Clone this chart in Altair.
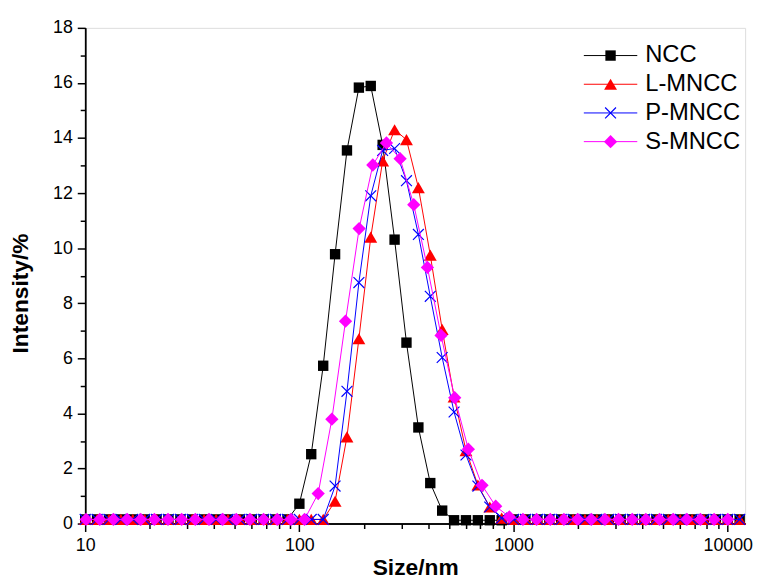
import altair as alt
import pandas as pd

# size grid used by NCC, L-MNCC and P-MNCC (nm)
size_a = [10.0, 11.37, 12.92, 14.68, 16.68, 18.96, 21.54, 24.48, 27.83, 31.62,
          35.94, 40.84, 46.42, 52.75, 59.95, 68.13, 77.43, 88.0, 100.0, 113.6,
          129.2, 146.8, 166.8, 189.6, 215.4, 244.8, 278.3, 316.2, 359.4, 408.4,
          464.2, 527.5, 599.5, 681.3, 774.3, 880.0, 1000.0, 1136, 1292, 1468,
          1668, 1896, 2154, 2448, 2783, 3162, 3594, 4084, 4642, 5275,
          5995, 6813, 7743, 8799, 10000, 11365]
# size grid used by S-MNCC (nm)
size_b = [10.1, 11.7, 13.54, 15.69, 18.17, 21.04, 24.36, 28.21, 32.67, 37.84,
          43.82, 50.75, 58.77, 68.06, 78.82, 91.28, 105.7, 122.4, 141.8, 164.2,
          190.1, 220.2, 255.0, 295.3, 342.0, 396.1, 458.7, 531.2, 615.1, 712.4,
          825.0, 955.4, 1106, 1281, 1484, 1718, 1990, 2305, 2669, 3091,
          3580, 4145, 4801, 5560, 6439, 7456, 8635, 10000]

ncc = [0.15, 0.15, 0.15, 0.15, 0.15, 0.15, 0.15, 0.15, 0.15, 0.15,
       0.15, 0.15, 0.15, 0.15, 0.15, 0.15, 0.15, 0.15, 0.72, 2.52,
       5.73, 9.78, 13.55, 15.83, 15.89, 13.75, 10.31, 6.57, 3.49, 1.47,
       0.47, 0.12, 0.12, 0.12, 0.12, 0.12, 0.15, 0.15, 0.15, 0.15,
       0.15, 0.15, 0.15, 0.15, 0.15, 0.15, 0.15, 0.15, 0.15, 0.15,
       0.15, 0.15, 0.15, 0.15, 0.15, 0.15]
l_mncc = [0.15, 0.15, 0.15, 0.15, 0.15, 0.15, 0.15, 0.15, 0.15, 0.15,
          0.15, 0.15, 0.15, 0.15, 0.15, 0.15, 0.15, 0.15, 0.15, 0.15,
          0.15, 0.81, 3.15, 6.71, 10.4, 13.17, 14.3, 13.94, 12.2, 9.75,
          7.05, 4.6, 2.65, 1.4, 0.6, 0.2, 0.15, 0.15, 0.15, 0.15,
          0.15, 0.15, 0.15, 0.15, 0.15, 0.15, 0.15, 0.15, 0.15, 0.15,
          0.15, 0.15, 0.15, 0.15, 0.15, 0.15]
p_mncc = [0.15, 0.15, 0.15, 0.15, 0.15, 0.15, 0.15, 0.15, 0.15, 0.15,
          0.15, 0.15, 0.15, 0.15, 0.15, 0.15, 0.15, 0.15, 0.15, 0.15,
          0.15, 1.36, 4.8, 8.75, 11.9, 13.55, 13.62, 12.45, 10.5, 8.25,
          6.03, 4.05, 2.49, 1.36, 0.6, 0.2, 0.15, 0.15, 0.15, 0.15,
          0.15, 0.15, 0.15, 0.15, 0.15, 0.15, 0.15, 0.15, 0.15, 0.15,
          0.15, 0.15, 0.15, 0.15, 0.15, 0.15]
s_mncc = [0.15, 0.15, 0.15, 0.15, 0.15, 0.15, 0.15, 0.15, 0.15, 0.15,
          0.15, 0.15, 0.15, 0.15, 0.15, 0.15, 0.15, 1.09, 3.79, 7.35,
          10.71, 13.02, 13.82, 13.25, 11.58, 9.3, 6.83, 4.57, 2.7, 1.39,
          0.63, 0.24, 0.15, 0.15, 0.15, 0.15, 0.15, 0.15, 0.15, 0.15,
          0.15, 0.15, 0.15, 0.15, 0.15, 0.15, 0.15, 0.15]

names = ["NCC", "L-MNCC", "P-MNCC", "S-MNCC"]
colors = ["#000000", "#FF0000", "#0000FF", "#FF00FF"]
x_major = [10, 100, 1000, 10000]
x_minor = [20, 30, 40, 50, 60, 70, 80, 90, 200, 300, 400, 500, 600, 700, 800, 900,
           2000, 3000, 4000, 5000, 6000, 7000, 8000, 9000]
y_major = [0, 2, 4, 6, 8, 10, 12, 14, 16, 18]
y_minor = [1, 3, 5, 7, 9, 11, 13, 15, 17]

FONT = "Liberation Sans"
XCROSS = "M-1,-1L1,1M-1,1L1,-1"
shapes = ["square", "triangle-up", XCROSS, "diamond"]
sizes = [110, 170, 120, 180]
filled = [True, True, False, True]

xscale = alt.Scale(type="log", domain=[10, 12050], nice=False)
yscale = alt.Scale(domain=[0, 18], nice=False, zero=False)

frames = [
    pd.DataFrame({"size": size_a, "intensity": ncc}),
    pd.DataFrame({"size": size_a, "intensity": l_mncc}),
    pd.DataFrame({"size": size_a, "intensity": p_mncc}),
    pd.DataFrame({"size": size_b, "intensity": s_mncc}),
]

axis_common = dict(labelFont=FONT, labelFontSize=18, labelColor="black",
                   labelFlush=False, labelOverlap=False,
                   tickColor="black", domainColor="black", tickWidth=1.5,
                   domainWidth=1.5, grid=False, titleFont=FONT, titleFontSize=23,
                   titleFontWeight="bold", titleColor="black")

layers = []
base0 = alt.Chart(frames[0])
layers.append(base0.mark_line(opacity=0).encode(
    x=alt.X("size:Q", scale=xscale,
            axis=alt.Axis(values=x_major, format="d", tickSize=8, labelPadding=5,
                          title="Size/nm", titleY=51, titleBaseline="alphabetic",
                          orient="bottom", **axis_common)),
    y=alt.Y("intensity:Q", scale=yscale,
            axis=alt.Axis(values=y_major, tickSize=8, labelPadding=5,
                          title="Intensity/%", titlePadding=20, titleY=268,
                          orient="left", **axis_common)),
))
layers.append(base0.mark_line(opacity=0).encode(
    x=alt.X("size:Q", scale=xscale,
            axis=alt.Axis(values=x_minor, tickSize=5, labels=False, title=None,
                          orient="bottom", **axis_common)),
    y=alt.Y("intensity:Q", scale=yscale,
            axis=alt.Axis(values=y_minor, tickSize=5, labels=False, title=None,
                          orient="left", **axis_common)),
))

for df, col, shp, sz, fl in zip(frames, colors, shapes, sizes, filled):
    base = alt.Chart(df).encode(
        x=alt.X("size:Q", scale=xscale, axis=None),
        y=alt.Y("intensity:Q", scale=yscale, axis=None),
    )
    layers.append(base.mark_line(color=col, strokeWidth=1))
    layers.append(base.mark_point(shape=shp, size=sz, filled=fl, color=col,
                                  strokeWidth=1.2, opacity=1))

# legend (line + marker + text)
for i, (nm, col, shp, sz, fl) in enumerate(zip(names, colors, shapes, sizes, filled)):
    ly = 28 + 29 * i
    leg = alt.Chart(pd.DataFrame({"name": [nm]}))
    layers.append(leg.mark_rule(color=col, strokeWidth=1).encode(
        x=alt.value(504), x2=alt.value(558), y=alt.value(ly)))
    layers.append(leg.mark_point(shape=shp, size=sz, filled=fl, color=col,
                                 strokeWidth=1.2, opacity=1).encode(
        x=alt.value(531), y=alt.value(ly)))
    layers.append(leg.mark_text(align="left", baseline="middle", font=FONT,
                                fontSize=24, color="black").encode(
        x=alt.value(566), y=alt.value(ly), text="name:N"))

chart = alt.layer(*layers).resolve_axis(x="independent", y="independent").properties(
    width=667, height=501,
    padding={"left": 78, "top": 17, "right": 11, "bottom": 56},
    autosize=alt.AutoSizeParams(type="none"),
).configure_view(stroke="black", strokeWidth=1.5).configure(background="white")

chart.save("out.html", embed_options={"renderer": "svg", "actions": False})
